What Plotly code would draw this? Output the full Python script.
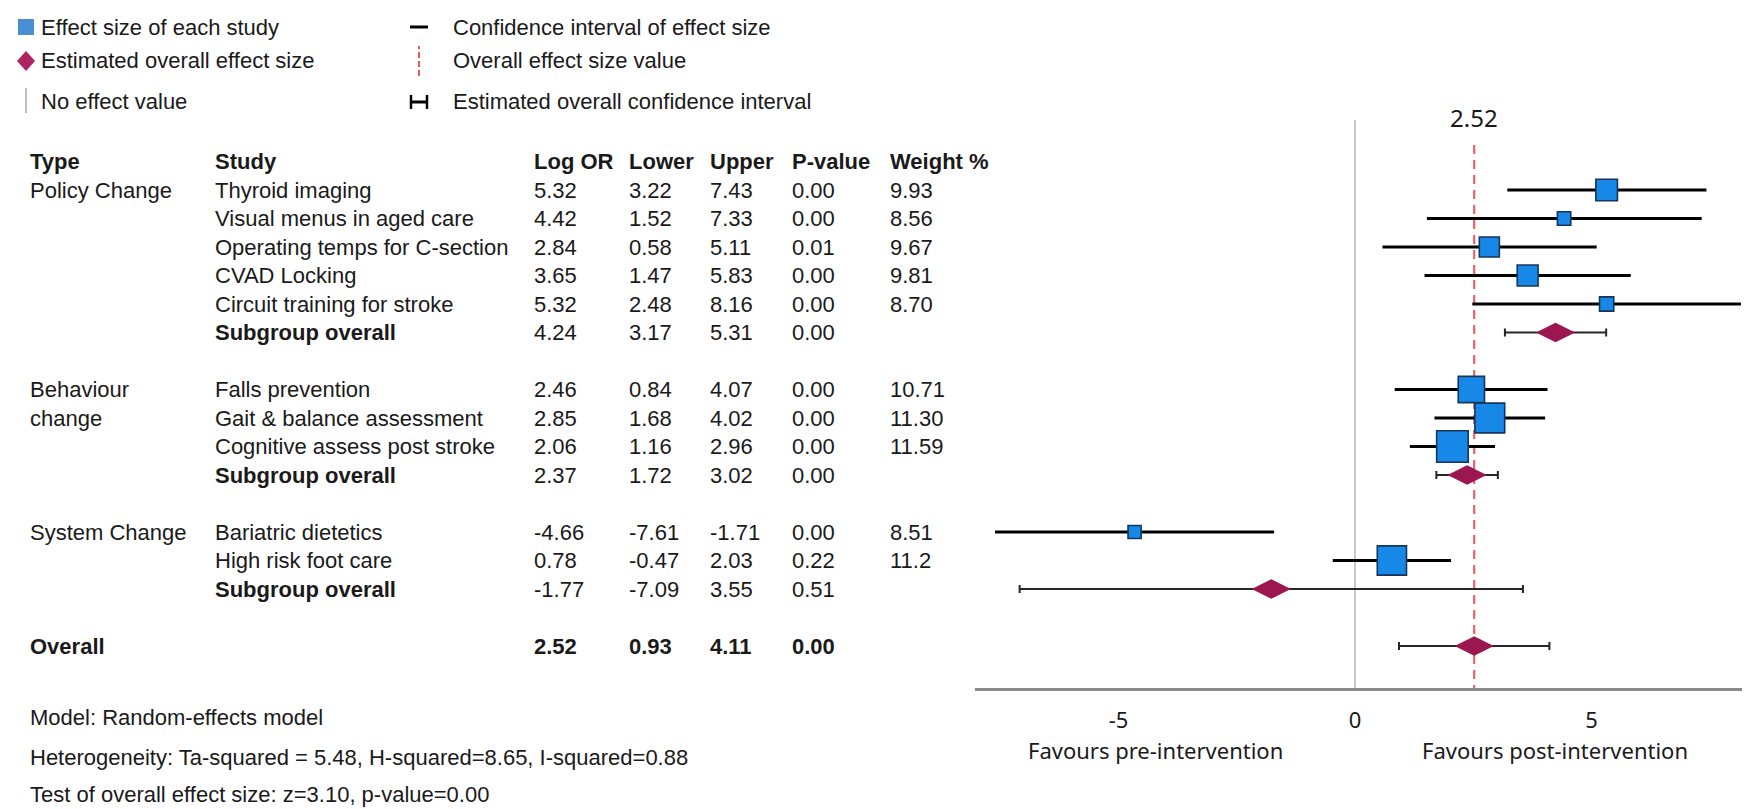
import numpy as np
import plotly.graph_objects as go

# ---------------- data ----------------
group_types = ["Policy Change", "Behaviour\nchange", "System Change"]
study_names = ["Thyroid imaging", "Visual menus in aged care", "Operating temps for C-section",
               "CVAD Locking", "Circuit training for stroke",
               "Falls prevention", "Gait & balance assessment", "Cognitive assess post stroke",
               "Bariatric dietetics", "High risk foot care"]
study_group = [0, 0, 0, 0, 0, 1, 1, 1, 2, 2]
log_or = [5.32, 4.42, 2.84, 3.65, 5.32, 2.46, 2.85, 2.06, -4.66, 0.78]
lower = [3.22, 1.52, 0.58, 1.47, 2.48, 0.84, 1.68, 1.16, -7.61, -0.47]
upper = [7.43, 7.33, 5.11, 5.83, 8.16, 4.07, 4.02, 2.96, -1.71, 2.03]
p_value = [0.00, 0.00, 0.01, 0.00, 0.00, 0.00, 0.00, 0.00, 0.00, 0.22]
weight_pct = ["9.93", "8.56", "9.67", "9.81", "8.70", "10.71", "11.30", "11.59", "8.51", "11.2"]

sub_or = [4.24, 2.37, -1.77]
sub_lower = [3.17, 1.72, -7.09]
sub_upper = [5.31, 3.02, 3.55]
sub_p = [0.00, 0.00, 0.51]

overall_or = 2.52
overall_lower = 0.93
overall_upper = 4.11
overall_p = 0.00

headers = ["Type", "Study", "Log OR", "Lower", "Upper", "P-value", "Weight %"]
x_ticks = [-5, 0, 5]
x_tick_text = ["-5", "0", "5"]
favour_labels = ["Favours pre-intervention", "Favours post-intervention"]
legend_items = ["Effect size of each study", "Estimated overall effect size", "No effect value",
                "Confidence interval of effect size", "Overall effect size value",
                "Estimated overall confidence interval"]
footer_lines = ["Model: Random-effects model",
                "Heterogeneity: Ta-squared = 5.48, H-squared=8.65, I-squared=0.88",
                "Test of overall effect size: z=3.10, p-value=0.00"]

# ---------------- layout helpers ----------------
W, H = 1750, 809
def px(x):
    return x / W
def py(y):
    return 1 - y / H

ROW0, ROWH = 182, 28.5
PLOT_TOP, PLOT_BOT = 112, 680
X_LEFT, X_RIGHT = 967, 1746
ZERO_PX, UNIT = 1347, 47.3

# row index of each line
study_row = [0] * len(study_names)
sub_row = [0] * len(sub_or)
i = 0
for g in range(len(sub_or)):
    for k, sg in enumerate(study_group):
        if sg == g:
            study_row[k] = i
            i += 1
    sub_row[g] = i
    i += 2
overall_row = i

TXT = "#1a1a1a"
FONT = "Liberation Sans, Arial, sans-serif"
AXFONT = "Noto Sans, Open Sans, sans-serif"
FS = 22

fig = go.Figure()

# study CI lines
lo = np.array(lower); up = np.array(upper); est = np.array(log_or)
fig.add_trace(go.Scatter(
    x=est, y=study_row, mode="markers",
    marker=dict(size=1, color="rgba(0,0,0,0)"),
    error_x=dict(type="data", symmetric=False, array=up - est, arrayminus=est - lo,
                 width=0, thickness=3, color="#000000"),
    hoverinfo="skip", showlegend=False))

# study squares
w_num = np.array([float(w) for w in weight_pct])
fig.add_trace(go.Scatter(
    x=est, y=study_row, mode="markers",
    marker=dict(symbol="square", size=13 + 6 * (w_num - 8.5), color="#1787E8", opacity=1,
                line=dict(color="#16365C", width=1.6)),
    showlegend=False))

# pooled CIs + diamonds
p_est = np.array(sub_or + [overall_or])
p_lo = np.array(sub_lower + [overall_lower])
p_up = np.array(sub_upper + [overall_upper])
p_rows = sub_row + [overall_row]
fig.add_trace(go.Scatter(
    x=p_est, y=p_rows, mode="markers",
    marker=dict(size=1, color="rgba(0,0,0,0)"),
    error_x=dict(type="data", symmetric=False, array=p_up - p_est, arrayminus=p_est - p_lo,
                 width=4, thickness=2, color="#262626"),
    hoverinfo="skip", showlegend=False))
fig.add_trace(go.Scatter(
    x=p_est, y=p_rows, mode="markers",
    marker=dict(symbol="diamond-wide", size=28, color="#9C1650", opacity=1, line=dict(width=0)),
    showlegend=False))

shapes = []
# no-effect line
shapes.append(dict(type="line", xref="x", yref="y domain", x0=0, x1=0, y0=0, y1=1,
                   line=dict(color="#C8C8C8", width=2), layer="below"))
# overall effect dashed line
y_range = [(PLOT_BOT - ROW0) / ROWH, (PLOT_TOP - ROW0) / ROWH]
shapes.append(dict(type="line", xref="x", yref="y", x0=overall_or, x1=overall_or,
                   y0=(137 - ROW0) / ROWH, y1=y_range[0],
                   line=dict(color="#F2545B", width=2, dash="9px,6px"), layer="below"))

# legend glyphs
shapes.append(dict(type="rect", xref="paper", yref="paper", x0=px(10), x1=px(26), y0=py(27), y1=py(11),
                   fillcolor="#4A8ED6", line=dict(width=0)))
cx, cy = 18, 53
shapes.append(dict(type="path", xref="paper", yref="paper",
                   path=f"M {px(cx-9)},{py(cy)} L {px(cx)},{py(cy-10)} L {px(cx+9)},{py(cy)} L {px(cx)},{py(cy+10)} Z",
                   fillcolor="#AE2360", line=dict(width=0)))
shapes.append(dict(type="line", xref="paper", yref="paper", x0=px(18), x1=px(18), y0=py(80), y1=py(105),
                   line=dict(color="#BDBDBD", width=2)))
shapes.append(dict(type="line", xref="paper", yref="paper", x0=px(402), x1=px(420), y0=py(19), y1=py(19),
                   line=dict(color="#000000", width=3)))
shapes.append(dict(type="line", xref="paper", yref="paper", x0=px(411), x1=px(411), y0=py(68), y1=py(38),
                   line=dict(color="#F2545B", width=2, dash="6px,3px")))
shapes.append(dict(type="line", xref="paper", yref="paper", x0=px(402), x1=px(420), y0=py(94), y1=py(94),
                   line=dict(color="#000000", width=3)))
for xc in (403, 419):
    shapes.append(dict(type="line", xref="paper", yref="paper", x0=px(xc), x1=px(xc), y0=py(101), y1=py(87),
                       line=dict(color="#000000", width=2.5)))

ann = []
def txt(x, y, s, size=FS, yref="paper", xanchor="left", font=FONT, xref="paper"):
    ann.append(dict(x=x, y=y, xref=xref, yref=yref, text=s, showarrow=False,
                    xanchor=xanchor, yanchor="middle",
                    font=dict(family=font, size=size, color=TXT)))

# legend text
leg_y = [19, 53, 94]
for k in range(3):
    txt(px(31), py(leg_y[k]), legend_items[k])
    txt(px(443), py(leg_y[k]), legend_items[k + 3])

# table
col_x = [20, 205, 524, 619, 700, 782, 880]
for h, cxp in zip(headers, col_x):
    txt(px(cxp), -1, f"<b>{h}</b>", yref="y")

for g, t in enumerate(group_types):
    first = min(study_row[k] for k in range(len(study_names)) if study_group[k] == g)
    for j, line in enumerate(t.split("\n")):
        txt(px(col_x[0]), first + j, line, yref="y")

for k, name in enumerate(study_names):
    r = study_row[k]
    vals = [name, f"{log_or[k]:.2f}", f"{lower[k]:.2f}", f"{upper[k]:.2f}", f"{p_value[k]:.2f}", weight_pct[k]]
    for v, cxp in zip(vals, col_x[1:]):
        txt(px(cxp), r, v, yref="y")

for g in range(len(sub_or)):
    r = sub_row[g]
    vals = ["<b>Subgroup overall</b>", f"{sub_or[g]:.2f}", f"{sub_lower[g]:.2f}", f"{sub_upper[g]:.2f}", f"{sub_p[g]:.2f}"]
    for v, cxp in zip(vals, col_x[1:]):
        txt(px(cxp), r, v, yref="y")

txt(px(col_x[0]), overall_row, "<b>Overall</b>", yref="y")
for v, cxp in zip([overall_or, overall_lower, overall_upper, overall_p], col_x[2:]):
    txt(px(cxp), overall_row, f"<b>{v:.2f}</b>", yref="y")

# footer
for s, yy in zip(footer_lines, [709, 749, 786]):
    txt(px(20), py(yy), s)

# overall value label (x in data units, y in paper units)
txt(overall_or, py(110), f"{overall_or:.2f}", size=24, yref="paper", xref="x",
    xanchor="center", font=AXFONT)

# favours labels
for s, xv in zip(favour_labels, [-4.22, 4.22]):
    txt(xv, py(742), s, size=22, xref="x", xanchor="center", font=AXFONT)

fig.update_layout(
    width=W, height=H, margin=dict(l=0, r=0, t=0, b=0),
    paper_bgcolor="white", plot_bgcolor="white",
    shapes=shapes, annotations=ann, showlegend=False,
    xaxis=dict(domain=[px(X_LEFT), px(X_RIGHT)],
               range=[(X_LEFT - ZERO_PX) / UNIT, (X_RIGHT - ZERO_PX) / UNIT],
               tickvals=x_ticks, ticktext=x_tick_text, ticks="", showgrid=False, zeroline=False,
               showline=True, linecolor="#8A8A8A", linewidth=2.5,
               tickfont=dict(family=AXFONT, size=22, color=TXT), ticklabelstandoff=11),
    yaxis=dict(domain=[py(PLOT_BOT), py(PLOT_TOP)], range=y_range, visible=False),
)

fig.write_html("out.html")
